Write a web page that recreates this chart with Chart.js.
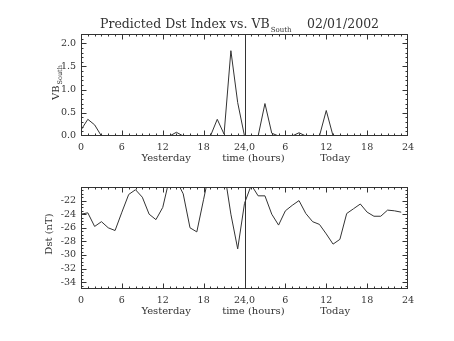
<!DOCTYPE html>
<html>
<head>
<meta charset="utf-8">
<script src="https://cdn.jsdelivr.net/npm/chart.js@4"></script>
<style>
  body { margin: 0; background: #fff; }
  #wrap { position: relative; width: 454px; height: 341px; }
  canvas { position: absolute; left: 0; }
</style>
</head>
<body>
<div id="wrap">
  <canvas id="vbChart" width="454" height="170" style="top:0"></canvas>
  <canvas id="dstChart" width="454" height="171" style="top:170px"></canvas>
</div>
<script>
// hours since midnight yesterday (0-23 yesterday, 24-47 today)
const hours = [0, 1, 2, 3, 4, 5, 6, 7, 8, 9, 10, 11, 12, 13, 14, 15, 16, 17, 18, 19, 20, 21, 22, 23,
               24, 25, 26, 27, 28, 29, 30, 31, 32, 33, 34, 35, 36, 37, 38, 39, 40, 41, 42, 43, 44, 45, 46, 47];

const vbSouth = [0.13, 0.36, 0.24, 0, 0, 0, 0, 0, 0, 0, 0, 0, 0, 0, 0.08, 0, 0, 0, 0, 0, 0.36, 0.04, 1.84, 0.72,
                 0, 0, 0, 0.70, 0.06, 0, 0, 0, 0.07, 0, 0, 0, 0.55, 0, 0, 0, 0, 0, 0, 0, 0, 0, 0, 0];

const dst = [-24.0, -23.8, -25.8, -25.1, -26.0, -26.4, -23.7, -21.1, -20.4, -21.5, -24.0, -24.8,
             -23.0, -18.7, -19.0, -21.0, -26.0, -26.6, -21.8, -17.1, -17.0, -17.5, -24.0, -29.1,
             -22.4, -19.7, -21.3, -21.3, -24.0, -25.6, -23.5, -22.7, -22.0, -23.9, -25.1, -25.5,
             -26.9, -28.4, -27.7, -23.9, -23.2, -22.5, -23.7, -24.3, -24.3, -23.4, -23.5, -23.7];

const xTicks = [0, 6, 12, 18, 24, 30, 36, 42, 48];
const xTickLabels = ['0', '6', '12', '18', '24,0', '6', '12', '18', '24'];
const vbTicks = [0, 0.5, 1.0, 1.5, 2.0];
const dstTicks = [-34, -32, -30, -28, -26, -24, -22];
const captions = ['Yesterday', 'time (hours)', 'Today'];
const captionHours = [12.5, 25.3, 37.3];

const FONT = '"DejaVu Serif", serif';
const INK = '#333';

function drawSub(ctx, main, sub, size, subSize, drop) {
    ctx.font = size + 'px ' + FONT;
    ctx.fillText(main, 0, 0);
    const w = ctx.measureText(main).width;
    ctx.font = subSize + 'px ' + FONT;
    ctx.fillText(sub, w + 1, drop);
}

// IDL-style frame: inward ticks on all sides, midnight line, captions and titles
const idlFrame = {
    id: 'idlFrame',
    afterDraw(chart, args, opts) {
        const { ctx, chartArea: a } = chart;
        const x = chart.scales.x, y = chart.scales.y;
        const L = Math.round(a.left) + 0.5, R = Math.round(a.right) - 0.5;
        const T = Math.round(a.top) + 0.5, B = Math.round(a.bottom) - 0.5;
        const clampX = p => Math.min(R, Math.max(L, p));
        const clampY = p => Math.min(B, Math.max(T, p));
        ctx.save();
        ctx.lineWidth = 1;
        ctx.strokeStyle = INK;
        ctx.strokeRect(L, T, R - L, B - T);

        ctx.beginPath();
        for (let h = 0; h <= 48; h++) {
            const px = clampX(Math.round(x.getPixelForValue(h)) + 0.5);
            const len = h % 6 === 0 ? 5 : 2;
            ctx.moveTo(px, B); ctx.lineTo(px, B - len);
            ctx.moveTo(px, T); ctx.lineTo(px, T + len);
        }
        const n = Math.round((y.max - y.min) / opts.minor);
        for (let i = 0; i <= n; i++) {
            const v = y.min + i * opts.minor;
            const q = v / opts.major;
            const len = Math.abs(q - Math.round(q)) < 1e-6 ? 5 : 2;
            const py = clampY(Math.round(y.getPixelForValue(v)) + 0.5);
            ctx.moveTo(L, py); ctx.lineTo(L + len, py);
            ctx.moveTo(R, py); ctx.lineTo(R - len, py);
        }
        // midnight separator
        const mx = Math.round(x.getPixelForValue(24)) + 0.5;
        ctx.moveTo(mx, T); ctx.lineTo(mx, B);
        ctx.stroke();

        ctx.fillStyle = INK;
        ctx.font = '10px ' + FONT;
        ctx.textAlign = 'center';
        ctx.textBaseline = 'middle';
        captions.forEach((c, i) => ctx.fillText(c, x.getPixelForValue(captionHours[i]), a.bottom + 22));

        ctx.textAlign = 'left';
        ctx.textBaseline = 'alphabetic';
        ctx.save();
        ctx.translate(opts.yTitleX, opts.yTitleY);
        ctx.rotate(-Math.PI / 2);
        if (opts.yTitleSub) {
            drawSub(ctx, opts.yTitle, opts.yTitleSub, 10, 6.5, 3);
        } else {
            ctx.font = '10px ' + FONT;
            ctx.textAlign = 'center';
            ctx.fillText(opts.yTitle, 0, 0);
        }
        ctx.restore();

        if (opts.title) {
            ctx.save();
            ctx.translate(100, 28);
            drawSub(ctx, 'Predicted Dst Index vs. VB', 'South', 12.5, 7, 3.5);
            ctx.restore();
            ctx.font = '12.5px ' + FONT;
            ctx.fillText('02/01/2002', 307, 28);
        }
        ctx.restore();
    }
};

function buildChart(id, values, yMin, yMax, yTicks, fmt, frame, top, xHeight) {
    return new Chart(document.getElementById(id), {
        type: 'line',
        data: {
            datasets: [{
                data: hours.map((h, i) => ({ x: h, y: values[i] })),
                borderColor: INK,
                borderWidth: 1,
                pointRadius: 0,
                tension: 0,
                fill: false
            }]
        },
        options: {
            responsive: false,
            animation: false,
            events: [],
            layout: { padding: { left: 0, right: 46, top: top, bottom: 0 } },
            plugins: {
                legend: { display: false },
                tooltip: { enabled: false },
                idlFrame: frame
            },
            scales: {
                x: {
                    type: 'linear',
                    min: 0,
                    max: 48,
                    afterBuildTicks: s => { s.ticks = xTicks.map(v => ({ value: v })); },
                    afterFit: s => { s.height = xHeight; },
                    grid: { display: false, drawTicks: false },
                    border: { display: false },
                    ticks: {
                        autoSkip: false,
                        maxRotation: 0,
                        padding: 6,
                        color: INK,
                        font: { family: FONT, size: 9.5 },
                        callback: (v, i) => xTickLabels[i]
                    }
                },
                y: {
                    min: yMin,
                    max: yMax,
                    afterBuildTicks: s => { s.ticks = yTicks.map(v => ({ value: v })); },
                    afterFit: s => { s.width = 81; },
                    grid: { display: false, drawTicks: false },
                    border: { display: false },
                    ticks: {
                        padding: 5,
                        color: INK,
                        font: { family: FONT, size: 9.5 },
                        callback: fmt
                    }
                }
            }
        },
        plugins: [idlFrame]
    });
}

buildChart('vbChart', vbSouth, 0, 2.2, vbTicks, v => v.toFixed(1),
    { minor: 0.1, major: 0.5, yTitle: 'VB', yTitleSub: 'South', yTitleX: 59, yTitleY: 100, title: true },
    34, 34);

buildChart('dstChart', dst, -35, -20, dstTicks, v => String(v),
    { minor: 0.5, major: 2, yTitle: 'Dst (nT)', yTitleX: 52, yTitleY: 64, title: false },
    17, 52);
</script>
</body>
</html>
